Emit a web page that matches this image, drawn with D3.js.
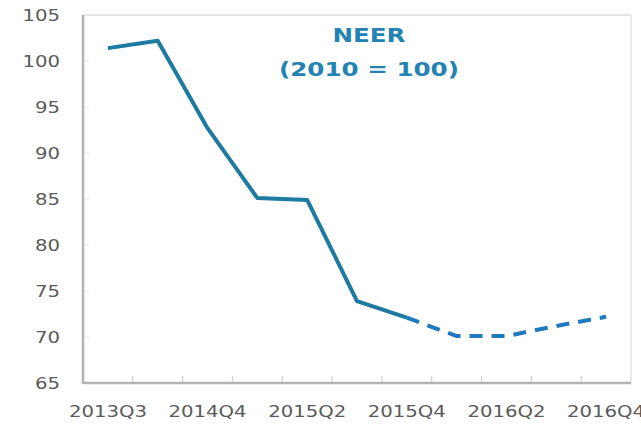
<!DOCTYPE html>
<html>
<head>
<meta charset="utf-8">
<script src="https://cdn.jsdelivr.net/npm/d3@7"></script>
<style>
  body { margin: 0; background: #fff; }
  svg { display: block; }
  text { font-family: "DejaVu Sans", Verdana, sans-serif; }
</style>
</head>
<body>
<div id="chart"></div>
<script>
// quarters on the x axis (only every other one gets a label)
const quarters = ["2013Q3", "2014Q2", "2014Q4", "2015Q1", "2015Q2", "2015Q3",
                  "2015Q4", "2016Q1", "2016Q2", "2016Q3", "2016Q4"];
// NEER index, actual values then projection
const actual = [101.4, 102.2, 92.7, 85.1, 84.9, 73.9, 72.1, null, null, null, null];
const projected = [null, null, null, null, null, null, 72.1, 70.1, 70.1, 71.2, 72.2];
const yTicks = [65, 70, 75, 80, 85, 90, 95, 100, 105];
const titleLines = ["NEER", "(2010 = 100)"];

const width = 641;
const height = 425;
const margin = { top: 15, right: 10, bottom: 42, left: 83 };
const stretch = 1.23; // the original text is a bit wide

const svg = d3.select("#chart")
  .append("svg")
  .attr("width", width)
  .attr("height", height);

const x = d3.scaleBand()
  .domain(quarters)
  .range([margin.left, width - margin.right]);

const y = d3.scaleLinear()
  .domain([65, 105])
  .range([height - margin.bottom, margin.top]);

// light frame on top and right
svg.append("line")
  .attr("x1", margin.left).attr("x2", width - margin.right)
  .attr("y1", margin.top).attr("y2", margin.top)
  .attr("stroke", "#dcdcdc").attr("stroke-width", 1.5);
svg.append("line")
  .attr("x1", width - margin.right).attr("x2", width - margin.right)
  .attr("y1", margin.top).attr("y2", height - margin.bottom)
  .attr("stroke", "#e3e3e3").attr("stroke-width", 1.5);

// y ticks (tiny marks inside the axis) and labels
svg.selectAll(".ytick")
  .data(yTicks)
  .enter()
  .append("line")
  .attr("x1", margin.left).attr("x2", margin.left + 6)
  .attr("y1", d => y(d)).attr("y2", d => y(d))
  .attr("stroke", "#e6e6e6");

svg.selectAll(".ylabel")
  .data(yTicks)
  .enter()
  .append("text")
  .attr("transform", d => `translate(60,${y(d)}) scale(${stretch},1)`)
  .attr("dy", "0.36em")
  .attr("text-anchor", "end")
  .style("font-size", "16px")
  .style("fill", "#5a5a5a")
  .text(d => d);

// x ticks at category boundaries
const bounds = quarters.slice(1).map(q => x(q));
svg.selectAll(".xtick")
  .data(bounds)
  .enter()
  .append("line")
  .attr("x1", d => d).attr("x2", d => d)
  .attr("y1", y(65)).attr("y2", y(65) - 7)
  .attr("stroke", "#cfcfcf").attr("stroke-width", 1.2);

svg.selectAll(".xlabel")
  .data(quarters.filter((q, i) => i % 2 === 0))
  .enter()
  .append("text")
  .attr("transform", d => `translate(${x(d) + x.bandwidth() / 2},417) scale(${stretch},1)`)
  .attr("text-anchor", "middle")
  .style("font-size", "16px")
  .style("fill", "#5a5a5a")
  .text(d => d);

// axes
svg.append("line")
  .attr("x1", margin.left).attr("x2", margin.left)
  .attr("y1", margin.top).attr("y2", y(65) + 1)
  .attr("stroke", "#b3b3b3").attr("stroke-width", 2.5);
svg.append("line")
  .attr("x1", margin.left).attr("x2", width - margin.right)
  .attr("y1", y(65)).attr("y2", y(65))
  .attr("stroke", "#b3b3b3").attr("stroke-width", 2.5);

const line = d3.line()
  .defined(d => d[1] !== null)
  .x(d => x(d[0]) + x.bandwidth() / 2)
  .y(d => y(d[1]));

svg.append("path")
  .datum(d3.zip(quarters, projected))
  .attr("d", line)
  .attr("fill", "none")
  .attr("stroke", "#1f79bd")
  .attr("stroke-width", 4)
  .attr("stroke-dasharray", "13,9");

svg.append("path")
  .datum(d3.zip(quarters, actual))
  .attr("d", line)
  .attr("fill", "none")
  .attr("stroke", "#1d7aa0")
  .attr("stroke-width", 4)
  .attr("stroke-linejoin", "round");

// title inside the plot
svg.selectAll(".title")
  .data(titleLines)
  .enter()
  .append("text")
  .attr("transform", (d, i) => `translate(369,${42 + i * 34}) scale(${stretch},1)`)
  .attr("text-anchor", "middle")
  .style("font-size", "20px")
  .style("font-weight", "bold")
  .style("fill", "#2383b3")
  .text(d => d);
</script>
</body>
</html>
